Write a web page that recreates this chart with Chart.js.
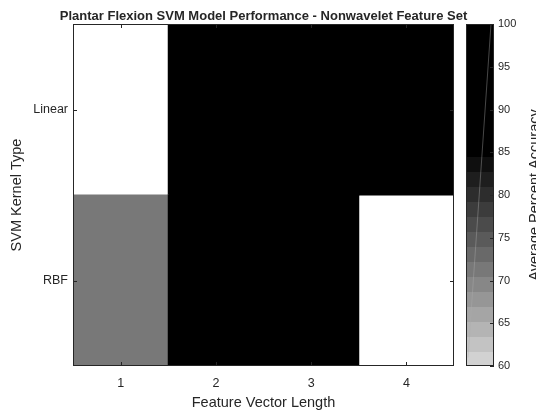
<!doctype html>
<html>
	<head>
		<meta charset="UTF-8" />
		<script src="https://cdn.jsdelivr.net/npm/chart.js"></script>
		<style type="text/css">
			body{margin: 0; background: #fff;}
			.chartBox{width: 536px; height: 413px;}
		</style>
	</head>
	<body>
		<div class="chartBox">
		<canvas id="svmChart" width="536" height="413"></canvas>
		</div>
		<script>
	            // data block
	            const featureLengths = ['1', '2', '3', '4'];
	            const kernelTypes = ['Linear', 'RBF'];
	            // null = no result (cell left white)
	            const linearAccuracy = [null, 97, 98, 96];
	            const rbfAccuracy = [71, 95, 96, null];
	            const colorbarTicks = [60, 65, 70, 75, 80, 85, 90, 95, 100];

	            const txt = '#262626';
	            const cmapMin = 60, cmapMax = 100, cmapStep = 1.75;
	            function grayFor(v) {
	                if (v === null) return 'rgba(0,0,0,0)';
	                const k = Math.max(0, Math.floor((v - cmapMin) / cmapStep));
	                const g = Math.max(0, 210 - 15 * k);
	                return 'rgb(' + g + ',' + g + ',' + g + ')';
	            }

	            // bottom row first so the stack builds upward
	            const rows = [rbfAccuracy, linearAccuracy];
	            const data = {
	                labels: featureLengths,
	                datasets: rows.map(function(acc, i) {
	                    return {
	                        label: kernelTypes[kernelTypes.length - 1 - i],
	                        data: featureLengths.map(function() { return 1; }),
	                        backgroundColor: acc.map(grayFor),
	                        borderWidth: 0,
	                        inflateAmount: 0.5,
	                        barPercentage: 1,
	                        categoryPercentage: 1
	                    };
	                })
	            };

	            const decor = {
	                id: 'decor',
	                afterDatasetsDraw(chart) {
	                    const ctx = chart.ctx, a = chart.chartArea;
	                    const x = chart.scales.x, y = chart.scales.y;
	                    ctx.save();
	                    ctx.strokeStyle = txt;
	                    ctx.lineWidth = 1;
	                    ctx.beginPath();
	                    x.ticks.forEach(function(t, i) {
	                        const px = Math.round(x.getPixelForTick(i)) + 0.5;
	                        ctx.moveTo(px, a.bottom); ctx.lineTo(px, a.bottom - 4);
	                        ctx.moveTo(px, a.top); ctx.lineTo(px, a.top + 4);
	                    });
	                    y.ticks.forEach(function(t) {
	                        const py = Math.round(y.getPixelForValue(t.value)) + 0.5;
	                        ctx.moveTo(a.left, py); ctx.lineTo(a.left + 4, py);
	                        ctx.moveTo(a.right, py); ctx.lineTo(a.right - 4, py);
	                    });
	                    ctx.stroke();
	                    ctx.strokeRect(a.left + 0.5, a.top + 0.5, a.right - a.left - 1, a.bottom - a.top - 1);
	                    ctx.restore();
	                },
	                afterDraw(chart) {
	                    const ctx = chart.ctx, a = chart.chartArea;
	                    const cb = chart.scales.cb;
	                    const l = cb.left + 12, r = cb.left + 40;
	                    ctx.save();
	                    // colorbar bands
	                    for (let lo = cmapMin; lo < cmapMax; lo += cmapStep) {
	                        const hi = Math.min(cmapMax, lo + cmapStep);
	                        const y0 = cb.getPixelForValue(hi), y1 = cb.getPixelForValue(lo);
	                        ctx.fillStyle = grayFor(lo + 0.01);
	                        ctx.fillRect(l, Math.floor(y0), r - l, Math.ceil(y1) - Math.floor(y0));
	                    }
	                    ctx.strokeStyle = 'rgba(170,170,170,0.6)';
	                    ctx.lineWidth = 0.7;
	                    ctx.beginPath();
	                    ctx.moveTo(l + 2, cb.getPixelForValue(61));
	                    ctx.lineTo(r - 3, cb.getPixelForValue(100));
	                    ctx.stroke();
	                    ctx.strokeStyle = txt;
	                    ctx.lineWidth = 1;
	                    ctx.strokeRect(l + 0.5, a.top + 0.5, r - l - 1, a.bottom - a.top - 1);
	                    ctx.beginPath();
	                    colorbarTicks.forEach(function(v) {
	                        const py = Math.round(cb.getPixelForValue(v)) + 0.5;
	                        ctx.moveTo(r, py); ctx.lineTo(r - 4, py);
	                    });
	                    ctx.stroke();
	                    // titles
	                    ctx.fillStyle = txt;
	                    ctx.font = 'bold 13px "Liberation Sans", Arial, sans-serif';
	                    ctx.textAlign = 'center';
	                    ctx.textBaseline = 'alphabetic';
	                    ctx.fillText('Plantar Flexion SVM Model Performance - Nonwavelet Feature Set', (a.left + a.right) / 2, 20);
	                    ctx.font = '14.5px "Liberation Sans", Arial, sans-serif';
	                    ctx.translate(538.7, (a.top + a.bottom) / 2);
	                    ctx.rotate(-Math.PI / 2);
	                    ctx.fillText('Average Percent Accuracy', 0, 0);
	                    ctx.restore();
	                }
	            };

	            const font = { family: '"Liberation Sans", Arial, sans-serif', size: 12.5 };
	            const config = {
	                type: 'bar',
	                data,
	                options: {
	                    responsive: false,
	                    animation: false,
	                    layout: { padding: { top: 24, left: 0, right: 0, bottom: 0 } },
	                    plugins: { legend: { display: false }, tooltip: { enabled: false } },
	                    scales: {
	                        x: {
	                            stacked: true,
	                            grid: { display: false, drawTicks: false },
	                            border: { display: false },
	                            ticks: { color: txt, font: font, padding: 10 },
	                            title: { display: true, text: 'Feature Vector Length', color: txt,
	                                font: { family: font.family, size: 14.5 }, padding: { top: 0, bottom: 1.5 } },
	                            afterFit(s) { s.height = 47; s.paddingLeft = 0; s.paddingRight = 0; }
	                        },
	                        y: {
	                            stacked: true,
	                            min: 0, max: 2,
	                            grid: { display: false, drawTicks: false },
	                            border: { display: false },
	                            afterBuildTicks(s) { s.ticks = [{ value: 0.5 }, { value: 1.5 }]; },
	                            ticks: { color: txt, font: font, padding: 5,
	                                callback: function(v) { return kernelTypes[kernelTypes.length - 1 - Math.floor(v)]; } },
	                            title: { display: true, text: 'SVM Kernel Type', color: txt,
	                                font: { family: font.family, size: 14.5 }, padding: { top: 8, bottom: 0 } },
	                            afterFit(s) { s.width = 73; s.paddingTop = 0; s.paddingBottom = 0; }
	                        },
	                        cb: {
	                            type: 'linear',
	                            position: 'right',
	                            min: cmapMin, max: cmapMax,
	                            grid: { display: false, drawTicks: false },
	                            border: { display: false },
	                            afterBuildTicks(s) { s.ticks = colorbarTicks.map(function(v) { return { value: v }; }); },
	                            ticks: { color: txt, font: { family: font.family, size: 11 }, padding: 44 },
	                            afterFit(s) { s.width = 82; s.paddingTop = 0; s.paddingBottom = 0; }
	                        }
	                    }
	                },
	                plugins: [decor]
	            };
	            const svmChart = new Chart(document.getElementById('svmChart'), config);
		</script>
	</body>
</html>
